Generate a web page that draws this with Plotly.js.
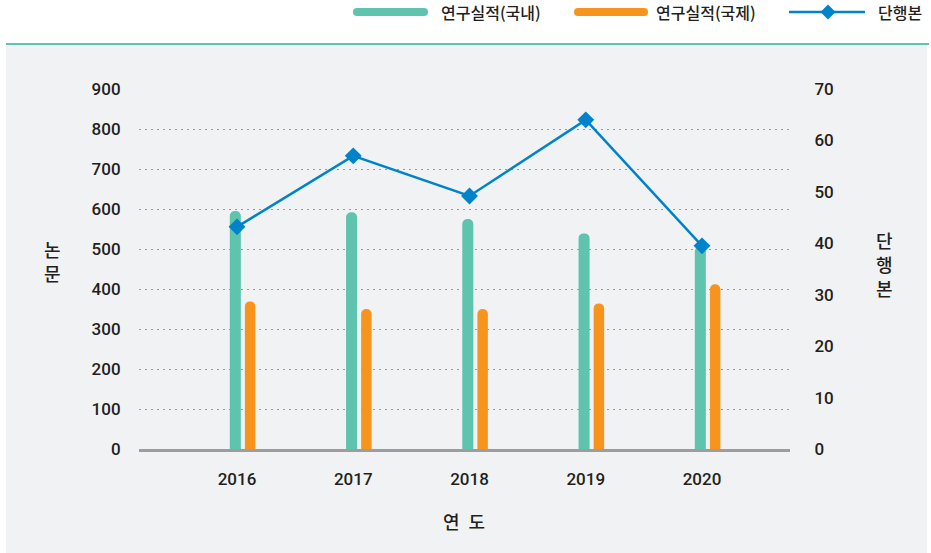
<!DOCTYPE html>
<html><head><meta charset="utf-8">
<script src="https://cdn.plot.ly/plotly-3.0.1.min.js"></script>
<style>html,body{margin:0;padding:0;background:#fff}#chart{width:931px;height:553px}</style>
</head><body><div id="chart"></div>
<script>
// ---- data ----
const years = ['2016', '2017', '2018', '2019', '2020'];
const domestic = [595, 592, 575, 539, 506];        // 연구실적(국내)
const international = [369, 350, 350, 364, 412];   // 연구실적(국제)
const books = [43.2, 57, 49.2, 64, 39.5];          // 단행본
const leftTicks = [0, 100, 200, 300, 400, 500, 600, 700, 800, 900];
const rightTicks = [0, 10, 20, 30, 40, 50, 60, 70];
const seriesNames = ['연구실적(국내)', '연구실적(국제)', '단행본'];

// ---- layout helpers ----
const W = 931, H = 553, L = 139, R = 141, T = 89, B = 104;
const pw = W - L - R, ph = H - T - B;
const px = x => (x - L) / pw;
const py = y => (H - B - y) / ph;

const GREEN = '#5fc4ae', ORANGE = '#f7941d', BLUE = '#0083ca', TXT = '#231f20';
const FONT = 'Roboto, "Noto Sans CJK KR", sans-serif';
const KFONT = '"Noto Sans CJK KR", sans-serif';

const traces = [
  { type: 'bar', x: years, y: domestic, name: seriesNames[0], offset: -0.062, width: 0.095,
    marker: { color: GREEN, cornerradius: '50%' }, showlegend: false, hoverinfo: 'x+y' },
  { type: 'bar', x: years, y: international, name: seriesNames[1], offset: 0.068, width: 0.09,
    marker: { color: ORANGE, cornerradius: '50%' }, showlegend: false, hoverinfo: 'x+y' },
  { type: 'scatter', mode: 'lines+markers', x: years, y: books, yaxis: 'y2', name: seriesNames[2],
    line: { color: BLUE, width: 2.5 }, marker: { symbol: 'diamond', size: 13, color: BLUE },
    showlegend: false, cliponaxis: false }
];

// legend drawn by hand
const legY = 12;
function swatch(x0, x1, color) {
  return [
    { type: 'line', xref: 'paper', yref: 'paper', x0: px(x0), x1: px(x1), y0: py(legY), y1: py(legY),
      line: { color: color, width: 8 } },
    { type: 'circle', xref: 'paper', yref: 'paper', x0: px(x0 - 4), x1: px(x0 + 4), y0: py(legY + 4), y1: py(legY - 4),
      fillcolor: color, line: { width: 0 } },
    { type: 'circle', xref: 'paper', yref: 'paper', x0: px(x1 - 4), x1: px(x1 + 4), y0: py(legY + 4), y1: py(legY - 4),
      fillcolor: color, line: { width: 0 } }
  ];
}
const dc = 828, ds = 7.5;
const shapes = [
  { type: 'rect', xref: 'paper', yref: 'paper', x0: px(6), x1: px(927), y0: py(553), y1: py(45),
    fillcolor: '#f1f2f4', line: { width: 0 }, layer: 'below' },
  { type: 'line', xref: 'paper', yref: 'paper', x0: px(6), x1: px(929), y0: py(44), y1: py(44),
    line: { color: GREEN, width: 2 } },
  ...swatch(357, 424, GREEN),
  ...swatch(578, 644, ORANGE),
  { type: 'line', xref: 'paper', yref: 'paper', x0: px(789), x1: px(865), y0: py(legY), y1: py(legY),
    line: { color: BLUE, width: 2.5 } },
  { type: 'path', xref: 'paper', yref: 'paper',
    path: `M ${px(dc - ds)},${py(legY)} L ${px(dc)},${py(legY - ds)} L ${px(dc + ds)},${py(legY)} L ${px(dc)},${py(legY + ds)} Z`,
    fillcolor: BLUE, line: { width: 0 } }
];

const ann = (text, x, y, size, opts) => Object.assign({ text, xref: 'paper', yref: 'paper', x: px(x), y: py(y),
  showarrow: false, xanchor: 'center', yanchor: 'middle',
  font: { family: KFONT, size: size, color: TXT, weight: 500 } }, opts || {});

const annotations = [
  ann(seriesNames[0], 439, legY, 16, { xanchor: 'left' }),
  ann(seriesNames[1], 654, legY, 16, { xanchor: 'left' }),
  ann(seriesNames[2], 876, legY, 16, { xanchor: 'left' }),
  // vertical axis titles, one glyph per line
  ann('논', 52, 249, 18),
  ann('문', 52, 273, 18),
  ann('단', 884, 240, 18),
  ann('행', 884, 264, 18),
  ann('본', 884, 288, 18),
  ann('연\u2002도', 464, 521, 18)
];

const tf = { family: FONT, size: 17, color: TXT, weight: 500 };
const layout = {
  width: W, height: H,
  margin: { l: L, r: R, t: T, b: B },
  paper_bgcolor: '#ffffff', plot_bgcolor: 'rgba(0,0,0,0)',
  barmode: 'overlay', showlegend: false,
  font: { family: FONT, size: 16, color: TXT },
  xaxis: { type: 'category', range: [-0.843, 4.757], showgrid: false, zeroline: false,
    showline: true, linecolor: '#9d9d9d', linewidth: 2.5,
    ticks: 'outside', ticklen: 13, tickcolor: 'rgba(0,0,0,0)', tickfont: tf },
  yaxis: { range: [0, 900], tickvals: leftTicks, showgrid: true, gridcolor: '#9a9a9a', gridwidth: 1,
    griddash: '1.5px,4.5px', zeroline: false, showline: false,
    ticks: 'outside', ticklen: 14, tickcolor: 'rgba(0,0,0,0)', tickfont: tf },
  yaxis2: { range: [0, 70], tickvals: rightTicks, overlaying: 'y', side: 'right', showgrid: false,
    zeroline: false, showline: false, ticks: 'outside', ticklen: 20, tickcolor: 'rgba(0,0,0,0)', tickfont: tf },
  shapes, annotations
};

Plotly.newPlot('chart', traces, layout, { displayModeBar: false, staticPlot: true });
</script>
</body></html>
